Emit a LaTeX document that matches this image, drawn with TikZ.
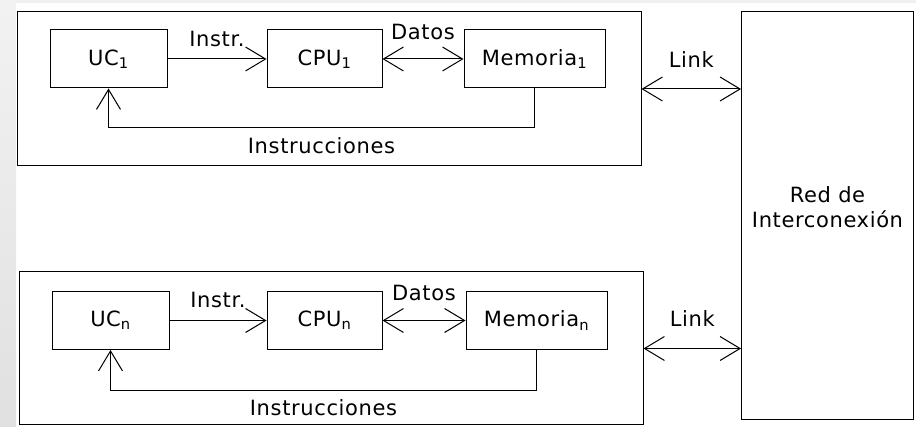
\documentclass[tikz,border=0pt]{standalone}
\usepackage{fontspec}
\setmainfont[LetterSpace=3]{DejaVu Sans}
\usetikzlibrary{arrows.meta}

\begin{document}
\begin{tikzpicture}[x=1pt,y=-1pt,line width=1pt,>={Straight Barb[length=20pt,width=24pt]},font=\fontsize{21}{25}\selectfont]
\tikzset{unitbox/.style=
	{draw,minimum height=58pt,inner sep=0pt},
	sysbox/.style=
	{draw,minimum width=624pt,inner sep=0pt},
	tag/.style={inner sep=0pt}}
\useasboundingbox (0,0) rectangle (916,427);
\fill[gray!12] (0,0) rectangle (916,3);
\shade[top color=gray!10,bottom color=gray!24] (0,0) rectangle (16,427);
\node[sysbox,minimum height=154pt] (sys1) at (329,89) {};
\node[unitbox,minimum width=117pt] (uc1) at (108.5,59) {UC\textsubscript{1}};
\node[unitbox,minimum width=115pt] (cpu1) at (324.5,59) {CPU\textsubscript{1}};
\node[unitbox,minimum width=141pt] (mem1) at (534.5,59) {Memoria\textsubscript{1}};
\node[sysbox,minimum height=153pt] (sysn) at (331,348.5) {};
\node[unitbox,minimum width=117pt] (ucn) at (110.5,320.5) {UC\textsubscript{n}};
\node[unitbox,minimum width=115pt] (cpun) at (324.5,320.5) {CPU\textsubscript{n}};
\node[unitbox,minimum width=141pt] (memn) at (536.5,320.5) {Memoria\textsubscript{n}};
\node[draw,minimum width=172pt,minimum height=408pt] (red) at (827.5,216) {};
\node[align=center,tag] (redtext) at (827.5,207) {Red de\\Interconexión};
\draw[->] (uc1) -- node[above=12pt,tag] {Instr.} (cpu1);
\draw[<->] (cpu1) -- node[above=19pt,tag] {Datos} (mem1);
\draw[->] (mem1.south) -- ++(0,39) -| node[pos=.25,below=10pt,tag] {Instrucciones} (uc1.south);
\draw[<->] (sys1.east) -- node[above=21pt,tag] {Link} (red.west |- sys1.east);
\draw[->] (ucn) -- node[above=12pt,tag] {Instr.} (cpun);
\draw[<->] (cpun) -- node[above=19pt,tag] {Datos} (memn);
\draw[->] (memn.south) -- ++(0,40.5) -| node[pos=.25,below=9pt,tag] {Instrucciones} (ucn.south);
\draw[<->] (sysn.east) -- node[above=21pt,tag] {Link} (red.west |- sysn.east);
\end{tikzpicture}
\end{document}
